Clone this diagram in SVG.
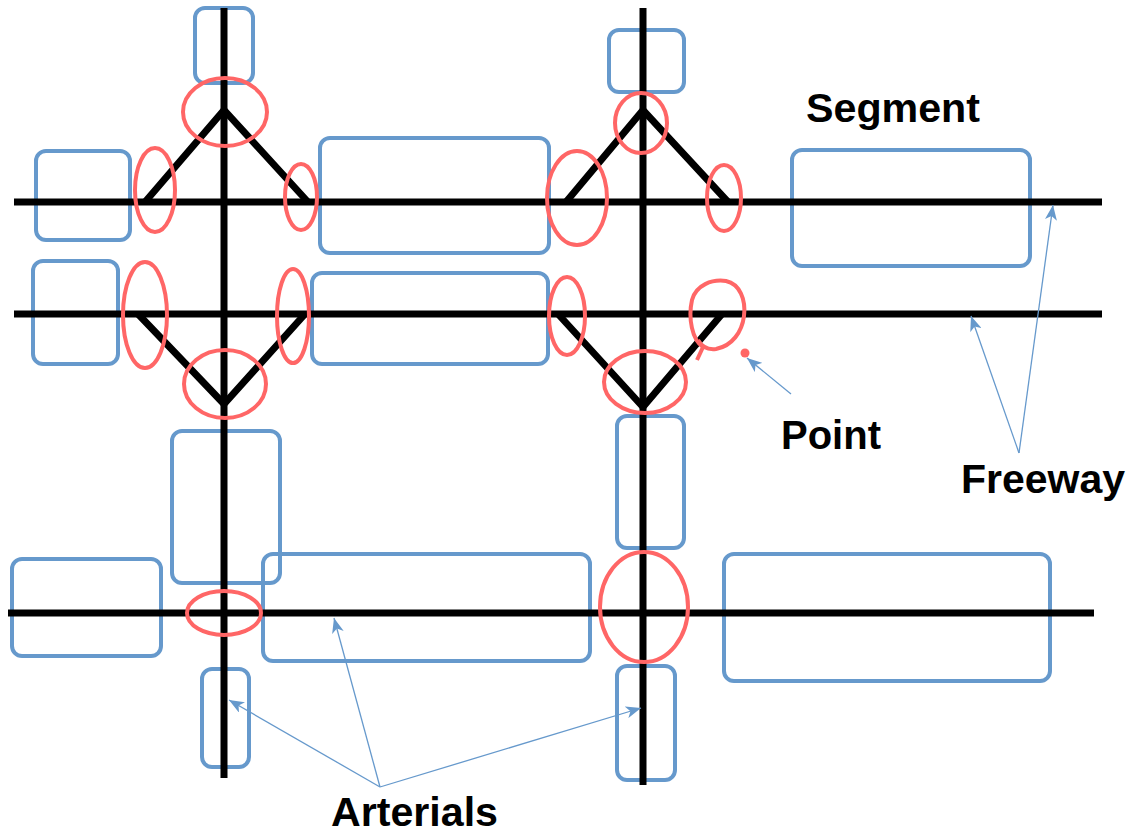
<svg xmlns="http://www.w3.org/2000/svg" width="1137" height="833" viewBox="0 0 1137 833">
<defs>
<style>
.seg{fill:none;stroke:#6699CC;stroke-width:4;}
.pt{fill:none;stroke:#FF6666;stroke-width:4;}
.road{fill:none;stroke:#000;stroke-width:7;}
.conn{fill:none;stroke:#6699CC;stroke-width:1.3;}
.lbl{font-family:"Liberation Sans",Arial,sans-serif;font-weight:bold;font-size:40px;fill:#000;}
</style>
<marker id="ah" markerUnits="userSpaceOnUse" markerWidth="16" markerHeight="12" refX="15" refY="6" orient="auto">
<path d="M0,0 L15,6 L0,12 L4,6 Z" fill="#6699CC"/>
</marker>
</defs>
<rect width="1137" height="833" fill="#fff"/>
<g id="segments">
<rect id="s1" class="seg" x="195" y="8" width="58" height="75" rx="10"/>
<rect id="s2" class="seg" x="36" y="151" width="94" height="89" rx="10"/>
<rect id="s3" class="seg" x="320" y="138" width="229" height="115" rx="10"/>
<rect id="s4" class="seg" x="609" y="30" width="75" height="62" rx="10"/>
<rect id="s5" class="seg" x="792" y="150" width="238" height="116" rx="10"/>
<rect id="s6" class="seg" x="33" y="261" width="85" height="103" rx="10"/>
<rect id="s7" class="seg" x="312" y="273" width="236" height="91" rx="10"/>
<rect id="s8" class="seg" x="172" y="431" width="108" height="152" rx="10"/>
<rect id="s9" class="seg" x="617" y="416" width="67" height="132" rx="10"/>
<rect id="s10" class="seg" x="12" y="559" width="149" height="97" rx="10"/>
<rect id="s11" class="seg" x="263" y="554" width="327" height="107" rx="10"/>
<rect id="s12" class="seg" x="724" y="554" width="326" height="127" rx="10"/>
<rect id="s13" class="seg" x="202" y="669" width="47" height="98" rx="10"/>
<rect id="s14" class="seg" x="617" y="666" width="58" height="114" rx="10"/>
</g>
<g id="roads">
<line class="road" x1="14" y1="202" x2="1102" y2="202"/>
<line class="road" x1="14" y1="314" x2="1102" y2="314"/>
<line class="road" x1="8" y1="613" x2="1094" y2="613"/>
<line class="road" x1="224" y1="8" x2="224" y2="778"/>
<line class="road" x1="643" y1="8" x2="643" y2="785"/>
<polyline class="road" points="145,202 224,110 308,202"/>
<polyline class="road" points="566,202 643,110 728,202"/>
<polyline class="road" points="138,314 224,404 305,314"/>
<polyline class="road" points="558,314 643,407 722,314"/>
</g>
<g id="points">
<ellipse id="p1" class="pt" cx="225" cy="112" rx="42" ry="34"/>
<ellipse id="p2" class="pt" cx="155" cy="190" rx="20" ry="42"/>
<ellipse id="p3" class="pt" cx="301" cy="197" rx="16" ry="33"/>
<ellipse id="p4" class="pt" cx="641" cy="123" rx="26" ry="30"/>
<ellipse id="p5" class="pt" cx="577" cy="198" rx="30" ry="47"/>
<ellipse id="p6" class="pt" cx="724" cy="198" rx="17" ry="33"/>
<ellipse id="p7" class="pt" cx="145" cy="315" rx="22" ry="53"/>
<ellipse id="p8" class="pt" cx="225" cy="384" rx="41" ry="34"/>
<ellipse id="p9" class="pt" cx="293" cy="316" rx="16" ry="47"/>
<ellipse id="p10" class="pt" cx="567" cy="316" rx="18" ry="39"/>
<ellipse id="p11" class="pt" cx="645" cy="382" rx="41" ry="31"/>
<path id="p12" class="pt" d="M697,360 L703,347 C692,340 688,318 692,300 C696,285 712,279 726,281 C740,284 746,300 744,316 C742,332 732,346 716,349 C708,350 702,347 698,340"/>
<circle id="p13" cx="745" cy="353" r="4.5" fill="#FF6666"/>
<ellipse id="p14" class="pt" cx="224" cy="613" rx="37" ry="22"/>
<ellipse id="p15" class="pt" cx="644" cy="607" rx="44" ry="55"/>
</g>
<g id="connectors">
<line class="conn" x1="791" y1="394" x2="747" y2="358" marker-end="url(#ah)"/>
<line class="conn" x1="1019" y1="453" x2="1053" y2="205" marker-end="url(#ah)"/>
<line class="conn" x1="1019" y1="453" x2="971" y2="316" marker-end="url(#ah)"/>
<line class="conn" x1="380" y1="787" x2="229" y2="700" marker-end="url(#ah)"/>
<line class="conn" x1="380" y1="787" x2="334" y2="618" marker-end="url(#ah)"/>
<line class="conn" x1="380" y1="787" x2="641" y2="708" marker-end="url(#ah)"/>
</g>
<g id="labels">
<text id="l-segment" class="lbl" x="806" y="122" textLength="174" lengthAdjust="spacingAndGlyphs">Segment</text>
<text id="l-point" class="lbl" x="781" y="449">Point</text>
<text id="l-freeway" class="lbl" x="961" y="493" textLength="164" lengthAdjust="spacingAndGlyphs">Freeway</text>
<text id="l-arterials" class="lbl" x="331" y="826" textLength="167" lengthAdjust="spacingAndGlyphs">Arterials</text>
</g>
</svg>
